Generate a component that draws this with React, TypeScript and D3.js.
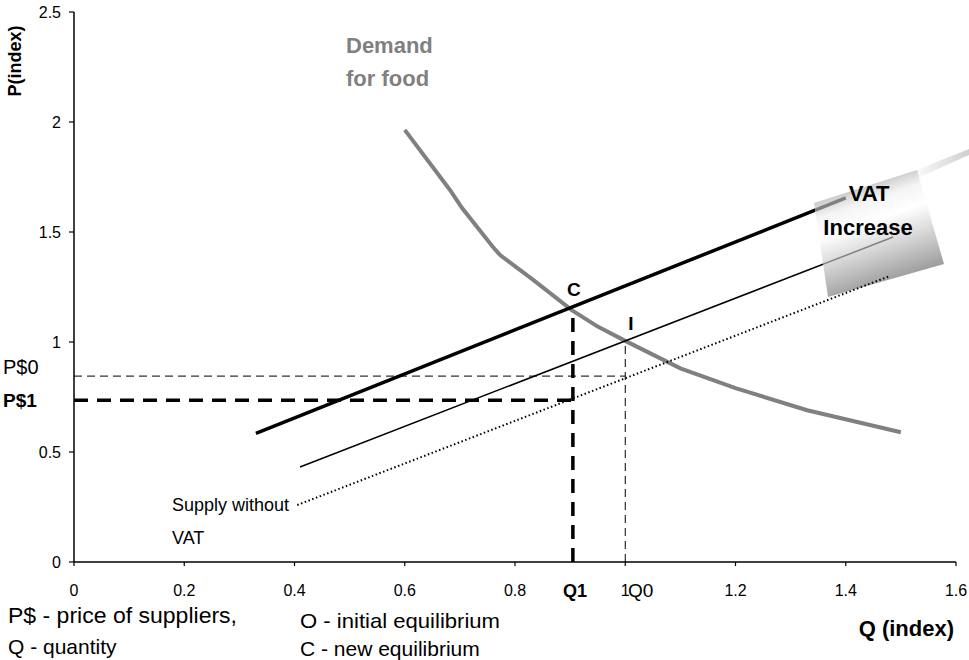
import React from "react";
import * as d3 from "d3";

// Demand curve for food
const demandQ = [0.6, 0.682, 0.704, 0.76, 0.773, 0.833, 0.903, 0.95, 1.0, 1.1, 1.2, 1.33, 1.5];
const demandP = [1.964, 1.691, 1.609, 1.432, 1.395, 1.282, 1.145, 1.07, 1.005, 0.88, 0.79, 0.69, 0.59];

// Supply lines (start / end points)
const supplyVatIncQ = [0.33, 1.4];
const supplyVatIncP = [0.585, 1.655];
const supplyVatQ = [0.41, 1.486];
const supplyVatP = [0.432, 1.477];
const supplyNoVatQ = [0.405, 1.48];
const supplyNoVatP = [0.259, 1.3];

// Equilibrium markers
const Q0 = 1.0;
const P0I = 1.005;
const Q1 = 0.905;
const PC = 1.15;
const Pdollar0 = 0.845;
const Pdollar1 = 0.735;

const xTicks = [0, 0.2, 0.4, 0.6, 0.8, 1, 1.2, 1.4, 1.6];
const yTicks = [0, 0.5, 1, 1.5, 2, 2.5];

const FONT = "'Liberation Sans', Arial, sans-serif";

export default function App() {
  const x = d3.scaleLinear().domain([0, 1.6]).range([74, 956]);
  const y = d3.scaleLinear().domain([0, 2.5]).range([562, 12]);
  const line = d3
    .line<[number, number]>()
    .x((d) => x(d[0]))
    .y((d) => y(d[1]));
  const zip = (a: number[], b: number[]) => a.map((v, i) => [v, b[i]] as [number, number]);

  const demand = line(zip(demandQ, demandP)) || "";
  const sVatInc = line(zip(supplyVatIncQ, supplyVatIncP)) || "";
  const sVat = line(zip(supplyVatQ, supplyVatP)) || "";
  const sNoVat = line(zip(supplyNoVatQ, supplyNoVatP)) || "";

  // Arrow-like shaded banner marking the VAT shift
  const banner = "M814,203 L917,170 L944,264 L828,297 Z";
  const tail = "M910,173 Q938,161 969,149 L969,155 Q940,168 917,178 Z";

  return (
    <svg
      width={969}
      height={660}
      style={{ position: "absolute", left: 0, top: 0, background: "#fff" }}
      fontFamily={FONT}
    >
      <defs>
        <linearGradient id="bannerGrad" x1="0.15" y1="0" x2="0.5" y2="1">
          <stop offset="0" stopColor="#8a8a8a" />
          <stop offset="0.3" stopColor="#f4f4f4" />
          <stop offset="0.45" stopColor="#ffffff" />
          <stop offset="0.65" stopColor="#d8d8d8" />
          <stop offset="1" stopColor="#8c8c8c" />
        </linearGradient>
        <linearGradient id="tailGrad" x1="0" y1="0" x2="1" y2="0">
          <stop offset="0" stopColor="#ffffff" />
          <stop offset="1" stopColor="#cfcfcf" />
        </linearGradient>
        <clipPath id="bannerClip">
          <path d={banner} />
        </clipPath>
      </defs>

      {/* axes */}
      <line x1={x(0)} x2={x(0)} y1={y(0)} y2={y(2.5)} stroke="#000" strokeWidth={1.5} />
      <line x1={x(0)} x2={x(1.6)} y1={y(0)} y2={y(0)} stroke="#000" strokeWidth={1.5} />
      {yTicks.map((t) => (
        <g key={"y" + t}>
          <line x1={x(0) - 5} x2={x(0)} y1={y(t)} y2={y(t)} stroke="#000" strokeWidth={1.2} />
          <text x={x(0) - 13} y={y(t)} dy="0.36em" textAnchor="end" fontSize={16}>
            {t}
          </text>
        </g>
      ))}
      {xTicks.map((t) => (
        <g key={"x" + t}>
          <line x1={x(t)} x2={x(t)} y1={y(0)} y2={y(0) + 4} stroke="#000" strokeWidth={1.2} />
          <text x={x(t)} y={y(0) + 34} textAnchor="middle" fontSize={16}>
            {t}
          </text>
        </g>
      ))}

      {/* demand */}
      <path d={demand} fill="none" stroke="#808080" strokeWidth={4} />

      {/* supply lines */}
      <path d={sVatInc} fill="none" stroke="#000" strokeWidth={3.5} />
      <path d={sVat} fill="none" stroke="#000" strokeWidth={1.5} />

      {/* equilibrium guides */}
      <line x1={x(0)} x2={x(Q0)} y1={y(Pdollar0)} y2={y(Pdollar0)} stroke="#000" strokeWidth={1} strokeDasharray="8,5" />
      <line x1={x(Q0)} x2={x(Q0)} y1={y(0)} y2={y(P0I)} stroke="#000" strokeWidth={1} strokeDasharray="8,5" />
      <line x1={x(0)} x2={x(Q1)} y1={y(Pdollar1)} y2={y(Pdollar1)} stroke="#000" strokeWidth={3.5} strokeDasharray="14,9" />
      <line x1={x(Q1)} x2={x(Q1)} y1={y(0)} y2={y(PC)} stroke="#000" strokeWidth={3.5} strokeDasharray="14,9" />

      {/* VAT banner */}
      <path d={tail} fill="url(#tailGrad)" />
      <path d={banner} fill="url(#bannerGrad)" />
      <g clipPath="url(#bannerClip)">
        <path d={sVatInc} fill="none" stroke="#808080" strokeWidth={3.5} />
        <path d={sVat} fill="none" stroke="#808080" strokeWidth={1.5} />
      </g>

      {/* supply without VAT */}
      <path d={sNoVat} fill="none" stroke="#000" strokeWidth={2} strokeDasharray="1.5,2.5" />

      {/* labels */}
      <text x={346} y={53} fontSize={22} fontWeight="bold" fill="#808080">Demand</text>
      <text x={346} y={86} fontSize={22} fontWeight="bold" fill="#808080">for food</text>
      <text x={869} y={201} fontSize={22} fontWeight="bold" textAnchor="middle">VAT</text>
      <text x={868} y={235} fontSize={22} fontWeight="bold" textAnchor="middle">Increase</text>
      <text x={x(Q1) + 1} y={296} fontSize={19} fontWeight="bold" textAnchor="middle">C</text>
      <text x={631} y={330} fontSize={19} fontWeight="bold" textAnchor="middle">I</text>
      <text x={172} y={511} fontSize={18}>Supply without</text>
      <text x={172} y={544} fontSize={18}>VAT</text>
      <text x={3} y={374} fontSize={20}>P$0</text>
      <text x={3} y={407} fontSize={19} fontWeight="bold">P$1</text>
      <text x={575} y={597} fontSize={18} fontWeight="bold" textAnchor="middle">Q1</text>
      <text x={628} y={597} fontSize={19}>Q0</text>
      <text transform="translate(21,61) rotate(-90)" fontSize={18} fontWeight="bold" textAnchor="middle">P(index)</text>
      <text x={954} y={636} fontSize={22} fontWeight="bold" textAnchor="end">Q (index)</text>
      <text x={8} y={623} fontSize={22} textLength={229} lengthAdjust="spacingAndGlyphs">P$ - price of suppliers,</text>
      <text x={8} y={654} fontSize={21}>Q - quantity</text>
      <text x={300} y={628} fontSize={21} textLength={200} lengthAdjust="spacingAndGlyphs">O - initial equilibrium</text>
      <text x={300} y={656} fontSize={21}>C - new equilibrium</text>
    </svg>
  );
}
